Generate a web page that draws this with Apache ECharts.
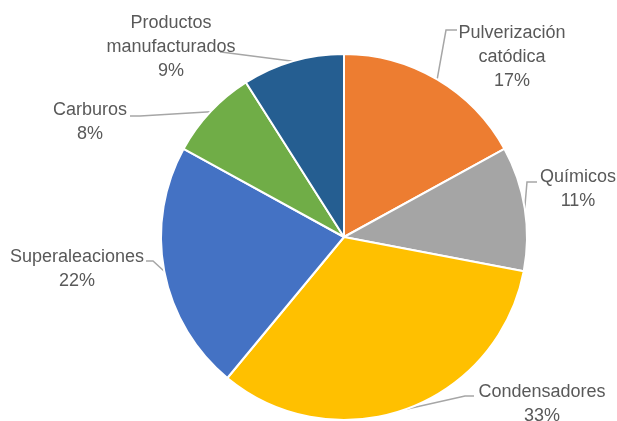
<!DOCTYPE html>
<html>
<head>
<meta charset="utf-8">
<script src="https://cdn.jsdelivr.net/npm/echarts@6/dist/echarts.min.js"></script>
<style>
html,body{margin:0;padding:0;background:#fff;}
#c{width:617px;height:421px;}
</style>
</head>
<body>
<div id="c"></div>
<script>
// Data
var categories = ['Pulverización catódica', 'Químicos', 'Condensadores', 'Superaleaciones', 'Carburos', 'Productos manufacturados'];
var values = [17, 11, 33, 22, 8, 9];
var colors = ['#ED7D31', '#A5A5A5', '#FFC000', '#4472C4', '#70AD47', '#255E91'];

// Label layout (text block centre x, top y; leader end point; bend offset)
var labelBox = [
  {cx: 512, top: 21, ex: 457, ey: 30, bend: -11},
  {cx: 578, top: 165, ex: 537, ey: 182, bend: -10},
  {cx: 542, top: 380, ex: 474, ey: 396, bend: -9},
  {cx: 77, top: 245, ex: 146, ey: 261, bend: 7},
  {cx: 90, top: 98, ex: 130, ey: 116, bend: 10},
  {cx: 171, top: 11, ex: 220, ey: 52, bend: 1}
];

var chart = echarts.init(document.getElementById('c'), null, {renderer: 'canvas'});
chart.setOption({
  animation: false,
  color: colors,
  series: [{
    type: 'pie',
    center: [344, 237],
    radius: [0, 183],
    startAngle: 90,
    clockwise: true,
    avoidLabelOverlap: false,
    itemStyle: {borderColor: '#ffffff', borderWidth: 2},
    label: {
      show: true,
      position: 'outside',
      fontFamily: 'Liberation Sans',
      fontSize: 18,
      lineHeight: 24,
      color: '#595959',
      formatter: function (p) {
        return p.name.replace(' ', '\n') + '\n' + Math.round(p.percent) + '%';
      }
    },
    labelLine: {
      show: true,
      length: 20,
      length2: 10,
      lineStyle: {color: '#A6A6A6', width: 1.5}
    },
    labelLayout: function (params) {
      var b = labelBox[params.dataIndex];
      var p0 = params.labelLinePoints[0];
      return {
        x: b.cx,
        y: b.top,
        align: 'center',
        verticalAlign: 'top',
        labelLinePoints: [[p0[0], p0[1]], [b.ex + b.bend, b.ey], [b.ex, b.ey]]
      };
    },
    data: categories.map(function (n, i) { return {name: n, value: values[i]}; })
  }]
});
</script>
</body>
</html>
